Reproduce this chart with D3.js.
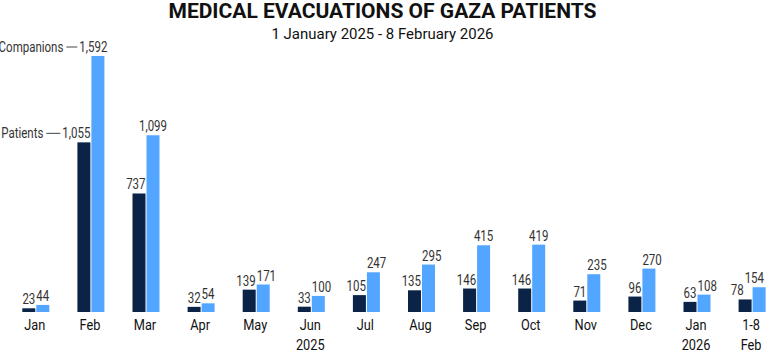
<!DOCTYPE html>
<html><head><meta charset="utf-8">
<script src="https://cdn.jsdelivr.net/npm/d3@7"></script>
<style>
html,body{margin:0;padding:0;background:#fff;}
text{font-family:Roboto,"Liberation Sans",sans-serif;}
</style></head>
<body>
<svg id="chart" width="767" height="353"></svg>
<script>
const categories = ["Jan","Feb","Mar","Apr","May","Jun","Jul","Aug","Sep","Oct","Nov","Dec","Jan","1-8"];
const subLabels  = ["","","","","","2025","","","","","","","2026","Feb"];
const patients   = [23,1055,737,32,139,33,105,135,146,146,71,96,63,78];
const companions = [44,1592,1099,54,171,100,247,295,415,419,235,270,108,154];
const seriesNames = ["Patients","Companions"];
const annotatedIndex = 1;
const title = "MEDICAL EVACUATIONS OF GAZA PATIENTS";
const subtitle = "1 January 2025 - 8 February 2026";

const svg = d3.select("#chart");
const W = 767;
const darkC = "#0b2346", lightC = "#52a6ff", labelC = "#333";
const keys = categories.map((c,i)=>i);
const step = 55.1, c0 = 35.8;
const x = d3.scaleBand().domain(keys).range([c0 - step/2, c0 - step/2 + step*14]).paddingInner(0).paddingOuter(0);
const y = d3.scaleLinear().domain([0, d3.max(companions)]).range([312, 56]);
const bw = 13, gap = 1;
const fmt = d3.format(",");

function condense(t, f) {
  const w = t.node().getComputedTextLength();
  t.attr("textLength", w * f).attr("lengthAdjust", "spacingAndGlyphs");
  return w * f;
}

svg.append("text").attr("x", W/2 - 1).attr("y", 18).attr("text-anchor","middle")
  .attr("font-size", 20).attr("font-weight", 700).attr("fill","#111")
  .attr("textLength", 428).attr("lengthAdjust","spacingAndGlyphs").text(title);
svg.append("text").attr("x", W/2 - 1).attr("y", 38.5).attr("text-anchor","middle")
  .attr("font-size", 15.5).attr("fill","#111")
  .attr("textLength", 222).attr("lengthAdjust","spacingAndGlyphs").text(subtitle);

const g = svg.append("g");
const cx = i => x(i) + x.bandwidth()/2;
const F = 0.82, FS = 14;

keys.forEach(i => {
  const c = cx(i);
  const dx0 = c - gap/2 - bw, lx0 = c + gap/2;
  g.append("rect").attr("x", dx0).attr("y", y(patients[i])).attr("width", bw)
    .attr("height", y(0) - y(patients[i])).attr("fill", darkC);
  g.append("rect").attr("x", lx0).attr("y", y(companions[i])).attr("width", bw)
    .attr("height", y(0) - y(companions[i])).attr("fill", lightC);

  const dl = g.append("text").attr("y", y(patients[i]) - 4)
    .attr("text-anchor","end").attr("font-size", FS).attr("fill", labelC).text(fmt(patients[i]));
  const dw = condense(dl, F);
  const lt = g.append("text").attr("y", y(companions[i]) - 4).attr("font-size", FS).attr("fill", labelC).text(fmt(companions[i]));
  const lw = condense(lt, F);
  let shift = 0;
  if (i === annotatedIndex) {
    lt.attr("x", lx0 + bw + 3).attr("text-anchor","end");
  } else if (y(patients[i]) - y(companions[i]) > 40) {
    lt.attr("x", lx0 + bw/2).attr("text-anchor","middle");
  } else {
    shift = Math.min(0, W - 3 - lw - (c + 0.5));
    lt.attr("x", c + 0.5 + shift).attr("text-anchor","start");
  }
  dl.attr("x", c - 0.5 + shift);

  if (i === annotatedIndex) {
    const anns = [[dl, seriesNames[0], 14], [lt, seriesNames[1], 11]];
    anns.forEach(([t, name, len]) => {
      const bb = t.node().getBBox();
      const ly = +t.attr("y") - 5;
      const x2 = bb.x - 2, x1 = x2 - len;
      g.append("line").attr("x1", x1).attr("x2", x2).attr("y1", ly).attr("y2", ly)
        .attr("stroke", "#444").attr("stroke-width", 1);
      const at = g.append("text").attr("x", x1 - 3).attr("y", +t.attr("y")).attr("text-anchor","end")
        .attr("font-size", FS).attr("fill", labelC).text(name);
      condense(at, F);
    });
  }

  const t1 = g.append("text").attr("x", c - 1).attr("y", 330).attr("text-anchor","middle")
    .attr("font-size", 14.5).attr("fill","#111").text(categories[i]);
  condense(t1, 0.88);
  if (subLabels[i]) {
    const t2 = g.append("text").attr("x", c - 1).attr("y", 350).attr("text-anchor","middle")
      .attr("font-size", 14.5).attr("fill","#111").text(subLabels[i]);
    condense(t2, 0.88);
  }
});
</script>
</body></html>
